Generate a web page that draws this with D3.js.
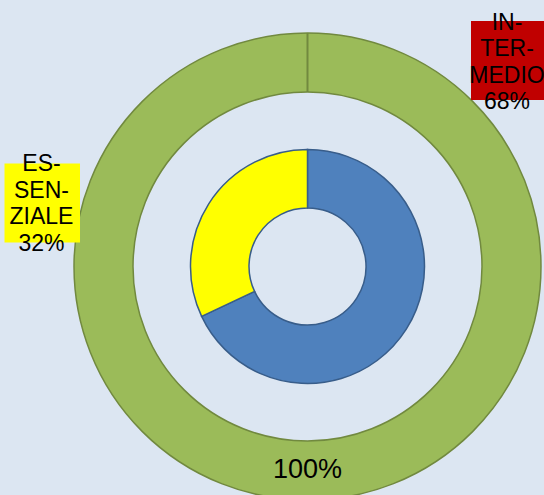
<!DOCTYPE html>
<html>
<head>
<meta charset="utf-8">
<script src="https://cdn.jsdelivr.net/npm/d3@7"></script>
<style>
html,body{margin:0;padding:0;background:#dce6f2;}
svg{display:block;}
text{font-family:"Liberation Sans",Arial,sans-serif;fill:#000;}
</style>
</head>
<body>
<script>
// Data
const outerCategories = ["TOTALE"];
const outerValues = [100];
const outerLabels = ["100%"];

const innerCategories = ["INTERMEDIO", "ESSENZIALE"];
const innerValues = [68, 32];
const innerLabelLines = [["IN-", "TER-", "MEDIO", "68%"], ["ES-", "SEN-", "ZIALE", "32%"]];
const innerColors = ["#4f81bd", "#ffff00"];
const labelBoxColors = ["#c00000", "#ffff00"];

const W = 544, H = 495;
const cx = 307.5, cy = 266.5;

const svg = d3.select("body").append("svg").attr("width", W).attr("height", H);
svg.append("rect").attr("width", W).attr("height", H).attr("fill", "#dce6f2");

const g = svg.append("g").attr("transform", `translate(${cx},${cy})`);

const pie = d3.pie().sort(null).value(d => d);

// Outer ring
const outerArc = d3.arc().innerRadius(174.5).outerRadius(233.5);
const outerData = pie(outerValues);
g.selectAll("path.outer").data(outerData).enter().append("path")
  .attr("class", "outer")
  .attr("d", outerArc)
  .attr("fill", "#9bbb59")
  .attr("stroke", "#71893f")
  .attr("stroke-width", 1.5);
// slice boundary line at start angle
outerData.forEach(d => {
  const a = d.startAngle;
  g.append("line")
    .attr("x1", 174.5 * Math.sin(a)).attr("y1", -174.5 * Math.cos(a))
    .attr("x2", 233.5 * Math.sin(a)).attr("y2", -233.5 * Math.cos(a))
    .attr("stroke", "#71893f").attr("stroke-width", 2);
});

// Inner donut
const innerArc = d3.arc().innerRadius(58.5).outerRadius(117);
g.selectAll("path.inner").data(pie(innerValues)).enter().append("path")
  .attr("class", "inner")
  .attr("d", innerArc)
  .attr("fill", (d, i) => innerColors[i])
  .attr("stroke", "#385d8a")
  .attr("stroke-width", 1.5);

// Outer label
g.append("text")
  .attr("x", 0).attr("y", 478 - cy)
  .attr("text-anchor", "middle")
  .attr("font-size", 27)
  .text(outerLabels[0]);

// Inner labels (boxes + text)
const boxes = [
  {x: 471, y: 21, w: 80, h: 79, tx: 507, ty: 29.5},
  {x: 4.5, y: 163.5, w: 75.5, h: 79, tx: 41.5, ty: 171}
];
innerCategories.forEach((c, i) => {
  const b = boxes[i];
  svg.append("rect").attr("x", b.x).attr("y", b.y).attr("width", b.w).attr("height", b.h)
    .attr("fill", labelBoxColors[i]);
  const t = svg.append("text").attr("text-anchor", "middle").attr("font-size", 23);
  innerLabelLines[i].forEach((ln, j) => {
    t.append("tspan").attr("x", b.tx).attr("y", b.ty + j * 26.5).text(ln);
  });
});
</script>
</body>
</html>
